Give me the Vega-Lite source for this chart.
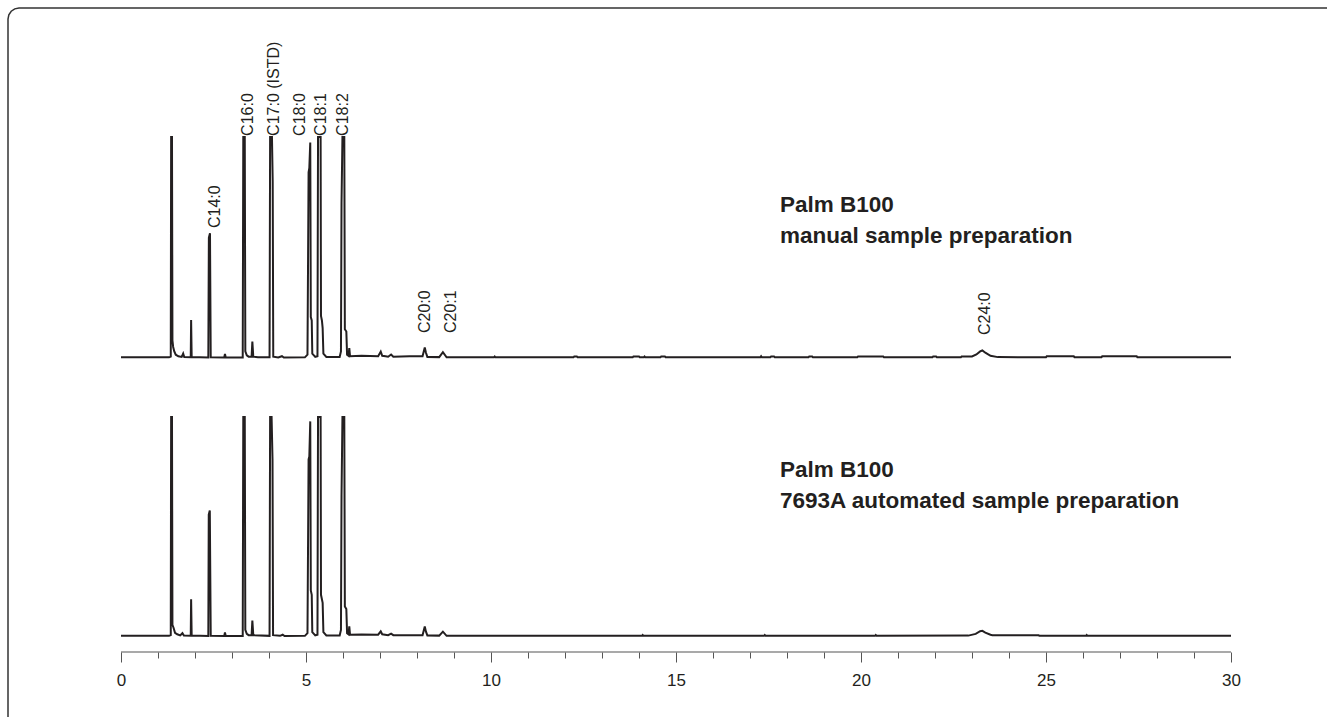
{
  "$schema": "https://vega.github.io/schema/vega-lite/v6.json",
  "width": 1335,
  "height": 725,
  "padding": 0,
  "autosize": {"type": "none"},
  "background": "white",
  "config": {"view": {"stroke": null}},
  "datasets": {
    "trace": [
      {"run": "manual", "t": 0, "v": 0.3},
      {"run": "manual", "t": 1.3, "v": 0.3},
      {"run": "manual", "t": 1.345, "v": 0.6},
      {"run": "manual", "t": 1.355, "v": 100},
      {"run": "manual", "t": 1.378, "v": 100},
      {"run": "manual", "t": 1.39, "v": 8},
      {"run": "manual", "t": 1.41, "v": 5},
      {"run": "manual", "t": 1.44, "v": 3},
      {"run": "manual", "t": 1.48, "v": 1.5},
      {"run": "manual", "t": 1.55, "v": 0.8},
      {"run": "manual", "t": 1.64, "v": 0.5},
      {"run": "manual", "t": 1.68, "v": 2},
      {"run": "manual", "t": 1.71, "v": 0.4},
      {"run": "manual", "t": 1.885, "v": 0.3},
      {"run": "manual", "t": 1.895, "v": 17.2},
      {"run": "manual", "t": 1.91, "v": 0.4},
      {"run": "manual", "t": 2.36, "v": 0.2},
      {"run": "manual", "t": 2.375, "v": 54.5},
      {"run": "manual", "t": 2.405, "v": 56.4},
      {"run": "manual", "t": 2.425, "v": 0.3},
      {"run": "manual", "t": 2.79, "v": 0.2},
      {"run": "manual", "t": 2.81, "v": 1.8},
      {"run": "manual", "t": 2.83, "v": 0.2},
      {"run": "manual", "t": 3.29, "v": 0.2},
      {"run": "manual", "t": 3.305, "v": 100},
      {"run": "manual", "t": 3.345, "v": 100},
      {"run": "manual", "t": 3.36, "v": 3},
      {"run": "manual", "t": 3.4, "v": 1.2},
      {"run": "manual", "t": 3.45, "v": 0.6},
      {"run": "manual", "t": 3.53, "v": 0.6},
      {"run": "manual", "t": 3.55, "v": 7.4},
      {"run": "manual", "t": 3.575, "v": 0.6},
      {"run": "manual", "t": 3.7, "v": 0.3},
      {"run": "manual", "t": 4.015, "v": 0.3},
      {"run": "manual", "t": 4.03, "v": 100},
      {"run": "manual", "t": 4.08, "v": 100},
      {"run": "manual", "t": 4.1, "v": 80},
      {"run": "manual", "t": 4.115, "v": 0.6},
      {"run": "manual", "t": 4.25, "v": 0.2},
      {"run": "manual", "t": 4.35, "v": 0.8},
      {"run": "manual", "t": 4.4, "v": 0.2},
      {"run": "manual", "t": 4.97, "v": 0.3},
      {"run": "manual", "t": 5.04, "v": 1.5},
      {"run": "manual", "t": 5.07, "v": 84},
      {"run": "manual", "t": 5.09, "v": 86},
      {"run": "manual", "t": 5.115, "v": 97.5},
      {"run": "manual", "t": 5.13, "v": 18.5},
      {"run": "manual", "t": 5.155, "v": 17},
      {"run": "manual", "t": 5.17, "v": 2},
      {"run": "manual", "t": 5.25, "v": 0.5},
      {"run": "manual", "t": 5.31, "v": 0.8},
      {"run": "manual", "t": 5.325, "v": 100},
      {"run": "manual", "t": 5.395, "v": 100},
      {"run": "manual", "t": 5.405, "v": 19},
      {"run": "manual", "t": 5.43, "v": 17},
      {"run": "manual", "t": 5.45, "v": 13.5},
      {"run": "manual", "t": 5.47, "v": 2},
      {"run": "manual", "t": 5.55, "v": 0.5},
      {"run": "manual", "t": 5.91, "v": 0.5},
      {"run": "manual", "t": 5.945, "v": 3},
      {"run": "manual", "t": 5.96, "v": 70},
      {"run": "manual", "t": 5.985, "v": 100},
      {"run": "manual", "t": 6.035, "v": 100},
      {"run": "manual", "t": 6.05, "v": 13},
      {"run": "manual", "t": 6.09, "v": 12},
      {"run": "manual", "t": 6.11, "v": 1.5},
      {"run": "manual", "t": 6.15, "v": 1},
      {"run": "manual", "t": 6.17, "v": 4.5},
      {"run": "manual", "t": 6.19, "v": 0.8},
      {"run": "manual", "t": 6.5, "v": 1},
      {"run": "manual", "t": 6.95, "v": 0.8},
      {"run": "manual", "t": 7.02, "v": 2.9},
      {"run": "manual", "t": 7.06, "v": 1},
      {"run": "manual", "t": 7.15, "v": 0.8},
      {"run": "manual", "t": 7.22, "v": 0.6},
      {"run": "manual", "t": 7.3, "v": 1.6},
      {"run": "manual", "t": 7.36, "v": 0.6},
      {"run": "manual", "t": 7.8, "v": 0.8},
      {"run": "manual", "t": 8.15, "v": 0.8},
      {"run": "manual", "t": 8.21, "v": 4.8},
      {"run": "manual", "t": 8.24, "v": 2.5},
      {"run": "manual", "t": 8.28, "v": 0.5},
      {"run": "manual", "t": 8.6, "v": 0.4},
      {"run": "manual", "t": 8.7, "v": 2.6},
      {"run": "manual", "t": 8.8, "v": 0.3},
      {"run": "manual", "t": 10.08, "v": 0.3},
      {"run": "manual", "t": 10.1, "v": 0.7},
      {"run": "manual", "t": 10.12, "v": 0.3},
      {"run": "manual", "t": 12.23, "v": 0.3},
      {"run": "manual", "t": 12.25, "v": 0.7},
      {"run": "manual", "t": 12.32, "v": 0.7},
      {"run": "manual", "t": 12.34, "v": 0.3},
      {"run": "manual", "t": 13.83, "v": 0.3},
      {"run": "manual", "t": 13.85, "v": 0.7},
      {"run": "manual", "t": 14.0, "v": 0.7},
      {"run": "manual", "t": 14.02, "v": 0.3},
      {"run": "manual", "t": 14.13, "v": 0.3},
      {"run": "manual", "t": 14.15, "v": 0.7},
      {"run": "manual", "t": 14.17, "v": 0.3},
      {"run": "manual", "t": 14.58, "v": 0.3},
      {"run": "manual", "t": 14.6, "v": 0.7},
      {"run": "manual", "t": 14.7, "v": 0.7},
      {"run": "manual", "t": 14.72, "v": 0.3},
      {"run": "manual", "t": 17.28, "v": 0.3},
      {"run": "manual", "t": 17.3, "v": 0.8},
      {"run": "manual", "t": 17.32, "v": 0.3},
      {"run": "manual", "t": 17.55, "v": 0.3},
      {"run": "manual", "t": 17.57, "v": 0.7},
      {"run": "manual", "t": 17.65, "v": 0.7},
      {"run": "manual", "t": 17.67, "v": 0.3},
      {"run": "manual", "t": 18.58, "v": 0.3},
      {"run": "manual", "t": 18.6, "v": 0.7},
      {"run": "manual", "t": 18.68, "v": 0.7},
      {"run": "manual", "t": 18.7, "v": 0.3},
      {"run": "manual", "t": 19.9, "v": 0.3},
      {"run": "manual", "t": 19.92, "v": 0.7},
      {"run": "manual", "t": 20.6, "v": 0.7},
      {"run": "manual", "t": 20.62, "v": 0.3},
      {"run": "manual", "t": 21.93, "v": 0.3},
      {"run": "manual", "t": 21.95, "v": 0.7},
      {"run": "manual", "t": 22.03, "v": 0.7},
      {"run": "manual", "t": 22.05, "v": 0.3},
      {"run": "manual", "t": 22.7, "v": 0.3},
      {"run": "manual", "t": 22.72, "v": 0.7},
      {"run": "manual", "t": 23.0, "v": 0.7},
      {"run": "manual", "t": 23.12, "v": 1.6},
      {"run": "manual", "t": 23.22, "v": 3.0},
      {"run": "manual", "t": 23.28, "v": 3.4},
      {"run": "manual", "t": 23.36, "v": 2.4},
      {"run": "manual", "t": 23.5, "v": 1.0},
      {"run": "manual", "t": 23.7, "v": 0.4},
      {"run": "manual", "t": 25.0, "v": 0.3},
      {"run": "manual", "t": 25.02, "v": 0.8},
      {"run": "manual", "t": 25.75, "v": 0.8},
      {"run": "manual", "t": 25.77, "v": 0.3},
      {"run": "manual", "t": 26.5, "v": 0.3},
      {"run": "manual", "t": 26.52, "v": 0.8},
      {"run": "manual", "t": 27.45, "v": 0.8},
      {"run": "manual", "t": 27.47, "v": 0.3},
      {"run": "manual", "t": 30, "v": 0.3},

      {"run": "automated", "t": 0, "v": 0.3},
      {"run": "automated", "t": 1.3, "v": 0.3},
      {"run": "automated", "t": 1.345, "v": 0.6},
      {"run": "automated", "t": 1.355, "v": 100},
      {"run": "automated", "t": 1.378, "v": 100},
      {"run": "automated", "t": 1.39, "v": 5.3},
      {"run": "automated", "t": 1.42, "v": 4},
      {"run": "automated", "t": 1.46, "v": 1.7},
      {"run": "automated", "t": 1.52, "v": 1},
      {"run": "automated", "t": 1.6, "v": 0.5},
      {"run": "automated", "t": 1.66, "v": 1.5},
      {"run": "automated", "t": 1.7, "v": 0.4},
      {"run": "automated", "t": 1.885, "v": 0.3},
      {"run": "automated", "t": 1.895, "v": 17},
      {"run": "automated", "t": 1.91, "v": 0.4},
      {"run": "automated", "t": 2.36, "v": 0.2},
      {"run": "automated", "t": 2.372, "v": 55.5},
      {"run": "automated", "t": 2.4, "v": 57.4},
      {"run": "automated", "t": 2.425, "v": 0.3},
      {"run": "automated", "t": 2.79, "v": 0.2},
      {"run": "automated", "t": 2.81, "v": 1.8},
      {"run": "automated", "t": 2.83, "v": 0.2},
      {"run": "automated", "t": 3.29, "v": 0.2},
      {"run": "automated", "t": 3.305, "v": 100},
      {"run": "automated", "t": 3.345, "v": 100},
      {"run": "automated", "t": 3.36, "v": 3},
      {"run": "automated", "t": 3.4, "v": 1.2},
      {"run": "automated", "t": 3.45, "v": 0.6},
      {"run": "automated", "t": 3.53, "v": 0.6},
      {"run": "automated", "t": 3.55, "v": 7.3},
      {"run": "automated", "t": 3.575, "v": 0.6},
      {"run": "automated", "t": 4.015, "v": 0.3},
      {"run": "automated", "t": 4.03, "v": 100},
      {"run": "automated", "t": 4.07, "v": 100},
      {"run": "automated", "t": 4.095, "v": 80.7},
      {"run": "automated", "t": 4.11, "v": 0.6},
      {"run": "automated", "t": 4.3, "v": 0.3},
      {"run": "automated", "t": 4.37, "v": 0.8},
      {"run": "automated", "t": 4.42, "v": 0.2},
      {"run": "automated", "t": 4.97, "v": 0.3},
      {"run": "automated", "t": 5.04, "v": 1.5},
      {"run": "automated", "t": 5.07, "v": 80.7},
      {"run": "automated", "t": 5.09, "v": 82},
      {"run": "automated", "t": 5.115, "v": 98},
      {"run": "automated", "t": 5.13, "v": 21},
      {"run": "automated", "t": 5.155, "v": 19},
      {"run": "automated", "t": 5.17, "v": 2},
      {"run": "automated", "t": 5.25, "v": 0.5},
      {"run": "automated", "t": 5.31, "v": 0.8},
      {"run": "automated", "t": 5.325, "v": 100},
      {"run": "automated", "t": 5.395, "v": 100},
      {"run": "automated", "t": 5.405, "v": 19},
      {"run": "automated", "t": 5.43, "v": 17},
      {"run": "automated", "t": 5.45, "v": 15.3},
      {"run": "automated", "t": 5.47, "v": 2},
      {"run": "automated", "t": 5.55, "v": 0.5},
      {"run": "automated", "t": 5.91, "v": 0.5},
      {"run": "automated", "t": 5.945, "v": 3},
      {"run": "automated", "t": 5.96, "v": 64},
      {"run": "automated", "t": 5.985, "v": 100},
      {"run": "automated", "t": 6.035, "v": 100},
      {"run": "automated", "t": 6.05, "v": 13.7},
      {"run": "automated", "t": 6.09, "v": 12.5},
      {"run": "automated", "t": 6.11, "v": 1.5},
      {"run": "automated", "t": 6.15, "v": 1},
      {"run": "automated", "t": 6.17, "v": 4.6},
      {"run": "automated", "t": 6.19, "v": 0.8},
      {"run": "automated", "t": 6.5, "v": 0.9},
      {"run": "automated", "t": 6.95, "v": 0.8},
      {"run": "automated", "t": 7.02, "v": 2.3},
      {"run": "automated", "t": 7.06, "v": 1},
      {"run": "automated", "t": 7.22, "v": 0.6},
      {"run": "automated", "t": 7.3, "v": 1.3},
      {"run": "automated", "t": 7.36, "v": 0.6},
      {"run": "automated", "t": 8.15, "v": 0.6},
      {"run": "automated", "t": 8.21, "v": 4.6},
      {"run": "automated", "t": 8.24, "v": 2.3},
      {"run": "automated", "t": 8.28, "v": 0.5},
      {"run": "automated", "t": 8.6, "v": 0.4},
      {"run": "automated", "t": 8.7, "v": 2.2},
      {"run": "automated", "t": 8.8, "v": 0.3},
      {"run": "automated", "t": 14.08, "v": 0.3},
      {"run": "automated", "t": 14.1, "v": 0.7},
      {"run": "automated", "t": 14.12, "v": 0.3},
      {"run": "automated", "t": 17.38, "v": 0.3},
      {"run": "automated", "t": 17.4, "v": 0.7},
      {"run": "automated", "t": 17.42, "v": 0.3},
      {"run": "automated", "t": 20.38, "v": 0.3},
      {"run": "automated", "t": 20.4, "v": 0.7},
      {"run": "automated", "t": 20.42, "v": 0.3},
      {"run": "automated", "t": 22.9, "v": 0.4},
      {"run": "automated", "t": 23.1, "v": 1.2},
      {"run": "automated", "t": 23.22, "v": 2.4},
      {"run": "automated", "t": 23.28, "v": 2.6},
      {"run": "automated", "t": 23.36, "v": 1.8},
      {"run": "automated", "t": 23.5, "v": 0.8},
      {"run": "automated", "t": 23.55, "v": 0.6},
      {"run": "automated", "t": 24.8, "v": 0.6},
      {"run": "automated", "t": 24.82, "v": 0.3},
      {"run": "automated", "t": 26.08, "v": 0.3},
      {"run": "automated", "t": 26.1, "v": 0.7},
      {"run": "automated", "t": 26.12, "v": 0.3},
      {"run": "automated", "t": 30, "v": 0.3}
    ],
    "peaks": [
      {"t": 2.53, "v": 58.8, "label": "C14:0"},
      {"t": 3.43, "v": 100.5, "label": "C16:0"},
      {"t": 4.13, "v": 100.5, "label": "C17:0 (ISTD)"},
      {"t": 4.85, "v": 100.5, "label": "C18:0"},
      {"t": 5.4, "v": 100.5, "label": "C18:1"},
      {"t": 5.99, "v": 100.5, "label": "C18:2"},
      {"t": 8.22, "v": 11.3, "label": "C20:0"},
      {"t": 8.91, "v": 11.3, "label": "C20:1"},
      {"t": 23.35, "v": 10.4, "label": "C24:0"}
    ],
    "notes": [
      {"run": "manual", "t": 17.81, "v": 66.06, "text": "Palm B100"},
      {"run": "manual", "t": 17.81, "v": 52.04, "text": "manual sample preparation"},
      {"run": "automated", "t": 17.81, "v": 72.67, "text": "Palm B100"},
      {"run": "automated", "t": 17.81, "v": 58.54, "text": "7693A automated sample preparation"}
    ],
    "frame": [
      {"o": 1, "t": -3.054, "v": -162.4},
      {"o": 2, "t": -3.054, "v": 153.39},
      {"o": 3, "t": -3.031, "v": 155.3},
      {"o": 4, "t": -2.967, "v": 156.91},
      {"o": 5, "t": -2.871, "v": 157.99},
      {"o": 6, "t": -2.757, "v": 158.37},
      {"o": 7, "t": 32.595, "v": 158.37}
    ],
    "baseaxis": [
      {"t": 0, "t2": 30, "v": -7.06}
    ]
  },
  "encoding": {
    "x": {
      "field": "t",
      "type": "quantitative",
      "scale": {"domain": [-3.2703, 32.8108], "nice": false, "zero": false},
      "axis": {
        "values": [0,1,2,3,4,5,6,7,8,9,10,11,12,13,14,15,16,17,18,19,20,21,22,23,24,25,26,27,28,29,30],
        "orient": "bottom",
        "offset": -73,
        "domain": false,
        "grid": false,
        "title": null,
        "tickColor": "#555555",
        "tickWidth": 1,
        "tickSize": {"condition": {"test": "datum.value % 5 === 0", "value": 10}, "value": 6},
        "labelExpr": "datum.value % 5 === 0 ? datum.label : ''",
        "labelPadding": 10,
        "labelFlush": false,
        "labelOverlap": false,
        "labelFont": "Liberation Sans Narrow, Liberation Sans, sans-serif",
        "labelFontSize": 17,
        "labelColor": "#231f20"
      }
    }
  },
  "layer": [
    {
      "encoding": {
        "y": {"field": "v", "type": "quantitative", "scale": {"domain": [-166.06, 161.99], "nice": false, "zero": false}, "axis": null}
      },
      "layer": [
        {
          "data": {"name": "frame"},
          "mark": {"type": "line", "stroke": "#333333", "strokeWidth": 1.5, "clip": false},
          "encoding": {"order": {"field": "o", "type": "quantitative"}}
        },
        {
          "data": {"name": "trace"},
          "transform": [{"filter": "datum.run === 'manual'"}],
          "mark": {"type": "line", "stroke": "#231f20", "strokeWidth": 2},
          "encoding": {"order": {"field": "t", "type": "quantitative"}}
        },
        {
          "data": {"name": "peaks"},
          "mark": {"type": "text", "angle": 270, "align": "left", "baseline": "middle", "font": "Liberation Sans, Arial, sans-serif", "fontSize": 16, "color": "#231f20"},
          "encoding": {"text": {"field": "label"}}
        },
        {
          "data": {"name": "notes"},
          "transform": [{"filter": "datum.run === 'manual'"}],
          "mark": {"type": "text", "align": "left", "baseline": "alphabetic", "font": "Liberation Sans, Arial, sans-serif", "fontWeight": "bold", "fontSize": 22.5, "color": "#231f20"},
          "encoding": {"text": {"field": "text"}}
        }
      ]
    },
    {
      "encoding": {
        "y": {"field": "v", "type": "quantitative", "scale": {"domain": [-40.32, 289.98], "nice": false, "zero": false}, "axis": null}
      },
      "layer": [
        {
          "data": {"name": "trace"},
          "transform": [{"filter": "datum.run === 'automated'"}],
          "mark": {"type": "line", "stroke": "#231f20", "strokeWidth": 2},
          "encoding": {"order": {"field": "t", "type": "quantitative"}}
        },
        {
          "data": {"name": "notes"},
          "transform": [{"filter": "datum.run === 'automated'"}],
          "mark": {"type": "text", "align": "left", "baseline": "alphabetic", "font": "Liberation Sans, Arial, sans-serif", "fontWeight": "bold", "fontSize": 22.5, "color": "#231f20"},
          "encoding": {"text": {"field": "text"}}
        },
        {
          "data": {"name": "baseaxis"},
          "mark": {"type": "rule", "stroke": "#555555", "strokeWidth": 1.2},
          "encoding": {"x2": {"field": "t2"}}
        }
      ]
    }
  ],
  "resolve": {"scale": {"y": "independent"}}
}
